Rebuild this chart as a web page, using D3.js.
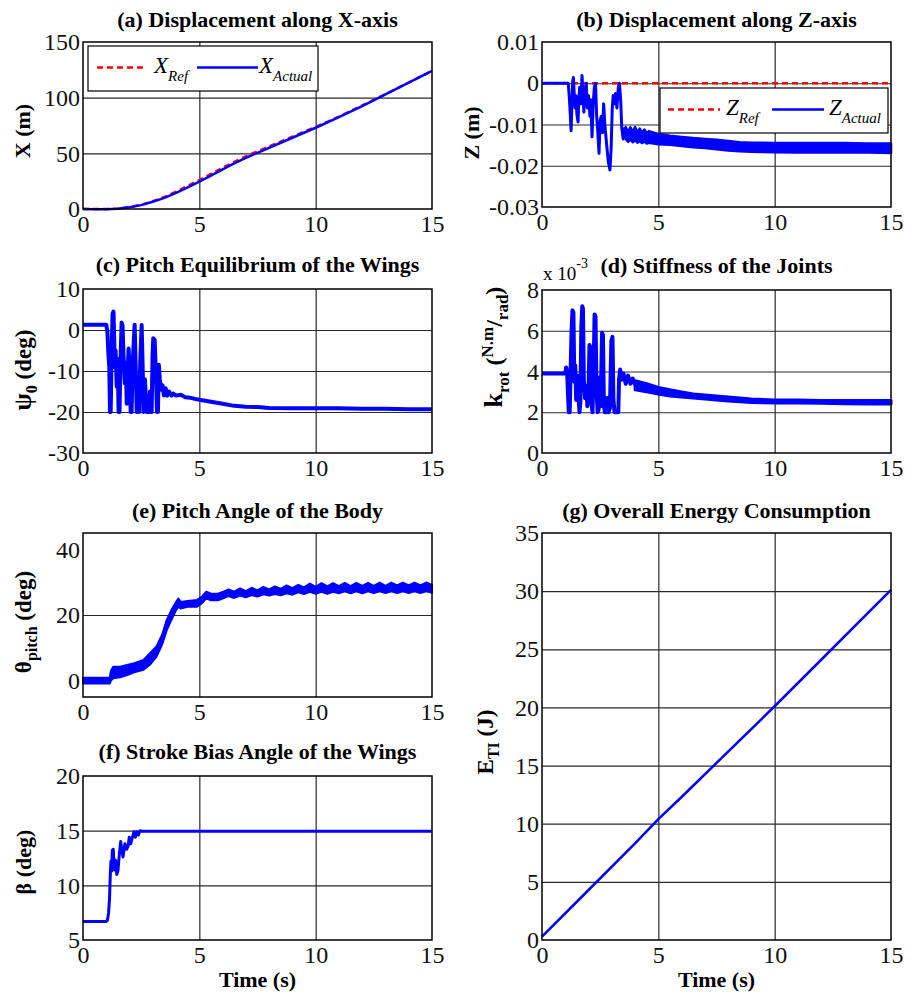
<!DOCTYPE html>
<html>
<head>
<meta charset="utf-8">
<script src="https://cdn.jsdelivr.net/npm/d3@7"></script>
<style>
  body { margin: 0; background: #fff; }
  svg, text, tspan { font-family: "Liberation Serif", "Times New Roman", Tinos, serif; }
</style>
</head>
<body>
<div id="fig"></div>
<script>
// ---- data ----
var timeTicks = [0, 5, 10, 15];

// (a) displacement along X
var xTime   = [0, 0.5, 1, 1.5, 2, 2.5, 3, 3.5, 4, 4.5, 5, 5.5, 6, 6.5, 7, 7.5, 8, 9, 10, 11, 12, 13, 14, 15];
var xActual = [0, -0.3, -0.2, 0.3, 1.5, 3.5, 6.5, 10, 14.5, 19.5, 24.5, 30, 35.5, 41, 46, 50.5, 55, 64, 73, 82.5, 92.5, 103, 113.5, 124];
var xRef    = [0, 0, 0, 0.3, 1.6, 3.8, 7, 10.8, 15.5, 20.8, 26, 31.5, 37, 42.3, 47.3, 51.8, 56.2, 65, 73.7, 83, 93, 103.2, 113.6, 124];

// (b) displacement along Z
var zRefTime = [0, 15];
var zRef     = [0, 0];
var zTime   = [0, 1.13, 1.18, 1.22, 1.25, 1.28, 1.32, 1.35, 1.38, 1.42, 1.46, 1.5, 1.55, 1.58, 1.62, 1.67, 1.72, 1.76, 1.8, 1.85,
               1.9, 1.95, 2.0, 2.06, 2.1, 2.15, 2.2, 2.25, 2.3, 2.35, 2.4, 2.45, 2.5, 2.55, 2.6, 2.65, 2.7, 2.78, 2.85, 2.92,
               2.97, 3.02, 3.06, 3.1, 3.16, 3.22, 3.28, 3.33, 3.38, 3.43, 3.49, 3.55, 3.6];
var zActual = [0, 0, -0.004, -0.008, -0.0115, -0.006, 0.0005, 0.0014, -0.002, -0.006, -0.003, -0.0075, -0.0094, -0.004, -0.001, -0.005, 0.0019, -0.002, -0.007, -0.002,
               0, -0.006, -0.003, -0.008, -0.004, -0.013, -0.005, -0.001, 0, -0.008, -0.012, -0.017, -0.009, -0.008, -0.012, -0.005, -0.01, -0.015, -0.019, -0.021,
               -0.016, -0.006, -0.003, -0.005, -0.0025, -0.006, -0.001, 0, -0.004, -0.011, -0.0135, -0.011, -0.0125];
var zBandTime = [3.6, 3.7, 3.8, 3.9, 4.0, 4.1, 4.2, 4.3, 4.4, 4.5, 4.6, 4.8, 5, 5.5, 6, 6.5, 7, 7.5, 8, 8.5, 9, 10, 11, 12, 13, 14, 15];
var zBandHigh = [-0.0106, -0.0119, -0.0107, -0.0118, -0.0106, -0.0119, -0.011, -0.012, -0.0112, -0.0121, -0.0116, -0.012, -0.0123,
                 -0.0127, -0.013, -0.0133, -0.0135, -0.0137, -0.014, -0.0143, -0.0144, -0.0145, -0.0145, -0.0145, -0.0145, -0.0146, -0.0146];
var zBandLow  = [-0.0135, -0.0142, -0.0136, -0.0143, -0.0138, -0.0144, -0.014, -0.0145, -0.0141, -0.0146, -0.0144, -0.0146, -0.0148,
                 -0.0149, -0.0152, -0.0155, -0.0157, -0.016, -0.0163, -0.0165, -0.0166, -0.0167, -0.0168, -0.0168, -0.0168, -0.0168, -0.0169];

// (c) pitch equilibrium of the wings
var psiTime = [0, 1.0, 1.05, 1.09, 1.13, 1.16, 1.19, 1.23, 1.27, 1.31, 1.34, 1.37, 1.4, 1.45, 1.49, 1.53, 1.57, 1.61, 1.66, 1.7,
               1.74, 1.8, 1.84, 1.88, 1.92, 1.96, 2.0, 2.05, 2.09, 2.13, 2.18, 2.22, 2.26, 2.31, 2.36, 2.41, 2.46, 2.52, 2.56, 2.6,
               2.66, 2.7, 2.75, 2.82, 2.88, 2.95, 2.99, 3.02, 3.08, 3.13, 3.18, 3.22, 3.26, 3.3, 3.36, 3.42, 3.48, 3.55, 3.62, 3.7,
               3.8, 3.88, 4.0, 4.2, 4.4, 4.6, 4.8, 5, 5.5, 6, 6.5, 7, 7.5, 8, 9, 10, 11, 12, 13, 14, 15];
var psi0    = [1.3, 1.3, -0.5, -5.7, -9, -20, -20, -6, 3.9, 4.5, -2, -9, -5, -13.8, -7, -20, -20, -8, 1.8, 1,
               -6, -13, -8, -18, -10, -4.5, -9, -20, -20, -9, -3, 1.3, -8, -20, -12, -20, -8, 1.2, -8, -20,
               -12, -16, -20, -20, -15, -20, -6, -2, -2.4, -10, -20, -20, -8.5, -12, -14.6, -13.5, -16, -14.2, -16, -15,
               -16, -15.5, -16, -15.8, -16.4, -16.5, -16.8, -17, -17.5, -18, -18.5, -18.7, -18.8, -19, -19.1, -19.1, -19.1, -19.2, -19.2, -19.3, -19.3];

// (d) stiffness of the joints (x 10^-3)
var kTime = [0, 1.0, 1.04, 1.08, 1.12, 1.15, 1.19, 1.23, 1.27, 1.31, 1.35, 1.39, 1.43, 1.47, 1.51, 1.56, 1.61, 1.65, 1.69, 1.73,
             1.76, 1.8, 1.85, 1.9, 1.95, 2.0, 2.04, 2.08, 2.13, 2.17, 2.21, 2.26, 2.3, 2.34, 2.39, 2.43, 2.47, 2.52, 2.58, 2.62,
             2.66, 2.7, 2.76, 2.8, 2.86, 2.92, 2.98, 3.03, 3.07, 3.12, 3.2, 3.28, 3.31, 3.36, 3.42, 3.5, 3.6, 3.7, 3.8, 3.9, 4.0];
var kRot  = [3.9, 3.9, 4.2, 4.0, 2.8, 2, 2, 4, 6, 7.0, 6.9, 3.5, 4.3, 2.6, 3.8, 3.0, 2, 2.5, 6.2, 7.2,
             7.1, 3.5, 2.7, 3.3, 2.3, 3, 5.3, 5.2, 2.4, 2, 3.6, 6.8, 6.7, 3.2, 2, 2.1, 3.7, 2.3, 5.9, 5.8,
             2.4, 2, 2, 2.7, 2, 2.2, 5.5, 5.7, 2.6, 2, 2, 2, 3.6, 4.1, 3.6, 3.9, 3.4, 3.8, 3.4, 3.65, 3.35];
var kBandTime = [4, 4.5, 5, 5.5, 6, 6.5, 7, 7.5, 8, 8.5, 9, 10, 11, 12, 13, 14, 15];
var kBandHigh = [3.55, 3.4, 3.22, 3.1, 3.0, 2.9, 2.85, 2.8, 2.75, 2.7, 2.65, 2.6, 2.6, 2.58, 2.58, 2.58, 2.58];
var kBandLow  = [3.1, 3.0, 2.9, 2.8, 2.75, 2.7, 2.65, 2.6, 2.55, 2.52, 2.48, 2.46, 2.46, 2.44, 2.42, 2.4, 2.4];

// (e) pitch angle of the body (band of the fast oscillation)
var thTime = [0, 1.15, 1.2, 1.3, 1.6, 1.9, 2.2, 2.6, 2.9, 3.16, 3.4, 3.6, 3.8, 4.0, 4.1, 4.2, 4.5, 4.9, 5.1, 5.3, 5.5, 5.8,
              6, 6.25, 6.5, 6.75, 7, 7.25, 7.5, 7.75, 8, 8.25, 8.5, 8.75, 9, 9.25, 9.5, 9.75, 10, 10.25, 10.5, 10.75,
              11, 11.25, 11.5, 11.75, 12, 12.25, 12.5, 12.75, 13, 13.25, 13.5, 13.75, 14, 14.25, 14.5, 14.75, 15];
var thHigh = [0.9, 0.9, 3, 4.2, 4.2, 4.8, 5.3, 6.3, 8.5, 10.4, 14, 18.5, 21.5, 24, 25, 24, 24.3, 24.6, 25.5, 27.1, 26.5, 26.5,
              27, 27.8, 27.1, 28.1, 27.3, 28.3, 27.5, 28.6, 27.8, 28.7, 28, 29, 28.2, 29.2, 28.4, 29.6, 28.6, 29.7, 28.7, 29.7,
              28.8, 29.8, 28.8, 29.8, 28.9, 29.8, 28.9, 29.9, 28.9, 29.9, 29, 29.9, 29, 29.9, 29, 29.9, 29.2];
var thLow  = [-0.9, -0.9, 0, 0.7, 1, 1.7, 2.5, 3.3, 5, 7.3, 11, 15.4, 18.5, 21.5, 22.5, 22, 22.5, 22.5, 23.5, 25.1, 24.5, 24.5,
              25, 25.8, 25.2, 25.9, 25.4, 26.1, 25.6, 26.3, 25.9, 26.4, 26, 26.6, 26.2, 26.9, 26.4, 27.1, 26.5, 27.1, 26.5, 27.1,
              26.6, 27.2, 26.6, 27.2, 26.6, 27.2, 26.7, 27.2, 26.7, 27.2, 26.7, 27.2, 26.7, 27.2, 26.7, 27.2, 26.8];

// (f) stroke bias angle of the wings
var betaTime = [0, 1.0, 1.05, 1.1, 1.14, 1.17, 1.2, 1.23, 1.26, 1.3, 1.35, 1.4, 1.45, 1.5, 1.56, 1.62, 1.67, 1.72, 1.8, 1.88,
                1.94, 1.99, 2.05, 2.1, 2.15, 2.19, 2.25, 2.31, 2.38, 2.45, 2.55, 15];
var beta     = [6.7, 6.7, 6.8, 7.5, 8.8, 10.8, 12.2, 11.3, 13.2, 13.3, 11.4, 12.3, 11.0, 11.3, 12.8, 14.0, 13.2, 12.6, 13.8, 13.3,
                13.6, 14.4, 13.8, 14.2, 14.6, 14.9, 14.4, 14.9, 14.6, 15, 14.95, 14.95];

// (g) overall energy consumption
var energyTime = [0, 2, 4, 5, 6, 8, 10, 12, 14, 15];
var energy     = [0.3, 4.3, 8.3, 10.4, 12.3, 16.2, 20.1, 24.1, 28.1, 30.1];

// ---- layout ----
var W = 910, H = 993;
var serif = "'Liberation Serif', 'Times New Roman', Tinos, serif";
var colL = { l: 83, r: 432 }, colR = { l: 542, r: 891 };
var blue = "#0000ff", red = "#ff0000";

var svg = d3.select("#fig").append("svg")
    .attr("width", W)
    .attr("height", H)
    .style("font-family", serif);

function pts(t, v) { return t.map(function (d, i) { return [d, v[i]]; }); }

function makePanel(col, top, bottom, yDomain, yTicks, title, titleGap) {
    var x = d3.scaleLinear().domain([0, 15]).range([col.l, col.r]);
    var y = d3.scaleLinear().domain(yDomain).range([bottom, top]);
    var g = svg.append("g");

    // grid lines
    g.append("g")
        .attr("transform", "translate(0," + bottom + ")")
        .call(d3.axisBottom(x).tickValues(timeTicks.slice(1, -1)).tickSize(-(bottom - top)).tickFormat(""))
        .call(function (s) { s.select(".domain").remove(); })
        .selectAll("line").attr("stroke", "#2a2a2a").attr("stroke-width", 1.2);
    g.append("g")
        .attr("transform", "translate(" + col.l + ",0)")
        .call(d3.axisLeft(y).tickValues(yTicks.slice(1, -1)).tickSize(-(col.r - col.l)).tickFormat(""))
        .call(function (s) { s.select(".domain").remove(); })
        .selectAll("line").attr("stroke", "#2a2a2a").attr("stroke-width", 1.2);

    // tick labels
    g.append("g")
        .attr("transform", "translate(0," + bottom + ")")
        .call(d3.axisBottom(x).tickValues(timeTicks).tickSize(0).tickPadding(6).tickFormat(function (d) { return String(d); }))
        .attr("font-family", serif).attr("font-size", 24)
        .call(function (s) { s.select(".domain").remove(); })
        .selectAll("text").attr("fill", "#111").style("font-family", serif);
    g.append("g")
        .attr("transform", "translate(" + col.l + ",0)")
        .call(d3.axisLeft(y).tickValues(yTicks).tickSize(0).tickPadding(3).tickFormat(function (d) { return String(d); }))
        .attr("font-family", serif).attr("font-size", 24)
        .call(function (s) { s.select(".domain").remove(); })
        .selectAll("text").attr("fill", "#111").style("font-family", serif);

    // title
    svg.append("text")
        .attr("x", (col.l + col.r) / 2)
        .attr("y", top - titleGap)
        .attr("text-anchor", "middle")
        .style("font-family", serif)
        .style("font-size", "22px")
        .style("font-weight", "bold")
        .text(title);

    var data = g.append("g");
    var frame = function () {
        g.append("rect")
            .attr("x", col.l).attr("y", top)
            .attr("width", col.r - col.l).attr("height", bottom - top)
            .attr("fill", "none").attr("stroke", "#000").attr("stroke-width", 1.5);
    };
    return { g: g, data: data, x: x, y: y, frame: frame };
}

function drawLine(p, t, v, color, width, dash) {
    var line = d3.line().x(function (d) { return p.x(d[0]); }).y(function (d) { return p.y(d[1]); });
    p.data.append("path")
        .datum(pts(t, v))
        .attr("fill", "none")
        .attr("stroke", color)
        .attr("stroke-width", width)
        .attr("stroke-linejoin", "round")
        .attr("stroke-dasharray", dash || null)
        .attr("d", line);
}

function drawBand(p, t, lo, hi, width) {
    var area = d3.area()
        .x(function (d) { return p.x(d[0]); })
        .y0(function (d) { return p.y(d[1]); })
        .y1(function (d) { return p.y(d[2]); });
    p.data.append("path")
        .datum(t.map(function (d, i) { return [d, lo[i], hi[i]]; }))
        .attr("fill", blue)
        .attr("stroke", blue)
        .attr("stroke-width", width)
        .attr("stroke-linejoin", "round")
        .attr("d", area);
}

// rotated y label built from pieces [text, size, dy]
function yLabel(x, y, parts) {
    var t = svg.append("text")
        .attr("transform", "translate(" + x + "," + y + ") rotate(-90)")
        .attr("text-anchor", "middle")
        .style("font-family", serif)
        .style("font-weight", "bold");
    parts.forEach(function (p) {
        t.append("tspan")
            .attr("dy", p[2])
            .style("font-size", p[1] + "px")
            .text(p[0]);
    });
}

function legend(p, bx, by, bw, bh, sym, xs) {
    p.g.append("rect")
        .attr("x", bx).attr("y", by).attr("width", bw).attr("height", bh)
        .attr("fill", "#fff").attr("stroke", "#000").attr("stroke-width", 1.2);
    var ly = by + bh / 2 - 1;
    var items = [[red, "6,4", "Ref"], [blue, null, "Actual"]];
    items.forEach(function (it, i) {
        var o = xs[i];
        p.g.append("line")
            .attr("x1", o[0]).attr("x2", o[1]).attr("y1", ly).attr("y2", ly)
            .attr("stroke", it[0]).attr("stroke-width", 2.5)
            .attr("stroke-dasharray", it[1]);
        var t = p.g.append("text")
            .attr("x", o[2]).attr("y", ly + 5)
            .style("font-family", serif)
            .style("font-style", "italic")
            .style("font-size", "23px");
        t.append("tspan").text(sym);
        t.append("tspan").attr("dy", 8).style("font-size", "15px").text(it[2]);
    });
}

// (a)
var pa = makePanel(colL, 42, 209, [0, 150], [0, 50, 100, 150], "(a) Displacement along X-axis", 15);
drawLine(pa, xTime, xRef, red, 2.5, "6,4");
drawLine(pa, xTime, xActual, blue, 2.5);
pa.frame();
legend(pa, 88, 46, 230, 45, "X", [[97, 147, 154], [197, 258, 259]]);
yLabel(30, 131, [["X (m)", 22, 0]]);

// (b)
var pb = makePanel(colR, 42, 207, [-0.03, 0.01], [-0.03, -0.02, -0.01, 0, 0.01], "(b) Displacement along Z-axis", 15);
drawLine(pb, zRefTime, zRef, red, 2.5, "6,4");
drawLine(pb, zTime, zActual, blue, 3);
drawBand(pb, zBandTime, zBandLow, zBandHigh, 2.5);
pb.frame();
legend(pb, 660, 88, 228, 45, "Z", [[668, 720, 726], [772, 824, 829]]);
yLabel(479, 133, [["Z (m)", 22, 0]]);

// (c)
var pc = makePanel(colL, 289, 453, [-30, 10], [-30, -20, -10, 0, 10], "(c) Pitch Equilibrium of the Wings", 17);
drawLine(pc, psiTime, psi0, blue, 4);
pc.frame();
yLabel(31, 370, [["\u03c8", 25, 0], ["0", 16, 6], ["  (deg)", 23, -6]]);

// (d)
var pd = makePanel(colR, 290, 453, [0, 8], [0, 2, 4, 6, 8], "(d) Stiffness of the Joints", 17);
drawLine(pd, kTime, kRot, blue, 4);
drawBand(pd, kBandTime, kBandLow, kBandHigh, 3);
pd.frame();
var mult = svg.append("text").attr("x", 543).attr("y", 280).style("font-family", serif).style("font-size", "19px");
mult.append("tspan").text("x 10");
mult.append("tspan").attr("dy", -12).style("font-size", "14px").text("-3");
yLabel(502, 347, [["k", 26, 0], ["rot", 17, 7], ["  (", 24, -7], ["N.m", 17, -9], ["/", 24, 9], ["rad", 17, 6], [")", 24, -6]]);

// (e)
var pe = makePanel(colL, 533, 697, [-5, 45], [0, 20, 40], "(e) Pitch Angle of the Body", 15);
drawBand(pe, thTime, thLow, thHigh, 2);
pe.frame();
yLabel(31, 622, [["\u03b8", 23, 0], ["pitch", 16, 6], ["  (deg)", 23, -6]]);

// (f)
var pf = makePanel(colL, 776, 940, [5, 20], [5, 10, 15, 20], "(f) Stroke Bias Angle of the Wings", 17);
drawLine(pf, betaTime, beta, blue, 3);
pf.frame();
yLabel(31, 862, [["\u03b2 (deg)", 22, 0]]);

// (g)
var pg = makePanel(colR, 533, 940, [0, 35], [0, 5, 10, 15, 20, 25, 30, 35], "(g) Overall Energy Consumption", 15);
drawLine(pg, energyTime, energy, blue, 2.5);
pg.frame();
yLabel(493, 742, [["E", 23, 0], ["TI", 16, 6], ["  (J)", 23, -6]]);

// x axis titles
[colL, colR].forEach(function (c) {
    svg.append("text")
        .attr("x", (c.l + c.r) / 2)
        .attr("y", 987)
        .attr("text-anchor", "middle")
        .style("font-family", serif)
        .style("font-size", "22px")
        .style("font-weight", "bold")
        .text("Time (s)");
});
</script>
</body>
</html>
